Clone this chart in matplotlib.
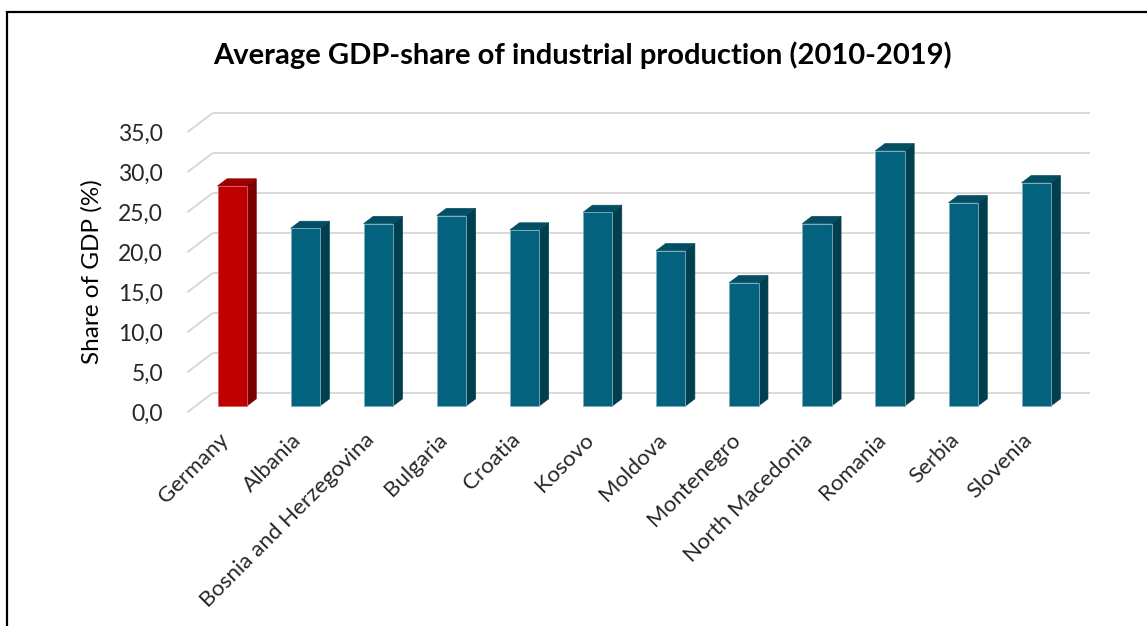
import matplotlib
matplotlib.use('Agg')
import matplotlib.pyplot as plt
from matplotlib.patches import Polygon, Rectangle

plt.rcParams['font.family'] = ['Lato', 'DejaVu Sans']

countries = ['Germany', 'Albania', 'Bosnia and Herzegovina', 'Bulgaria', 'Croatia',
             'Kosovo', 'Moldova', 'Montenegro', 'North Macedonia', 'Romania',
             'Serbia', 'Slovenia']
values = [27.5, 22.2, 22.8, 23.8, 22.0, 24.2, 19.4, 15.4, 22.8, 31.9, 25.4, 27.9]
highlight = 'Germany'
yticks = [0, 5, 10, 15, 20, 25, 30, 35]
title = 'Average GDP-share of industrial production (2010-2019)'
ylabel = 'Share of GDP (%)'

W, H = 1147, 626
fig = plt.figure(figsize=(W / 100, H / 100), dpi=100)
ax = fig.add_axes([0.14647, 0.3158, 0.8134, 0.5112])
ax.set_xlim(-0.763, 12.0)
ax.set_ylim(-2, 38)

DX, DY = 0.349, 2.41      # oblique depth offset (category units, value units)
D0, D1 = 0.33, 0.70       # bar depth range
BW = 0.40
grid_c = '#D9D9D9'
n = len(countries)

# walls' gridlines
for t in yticks:
    ax.plot([-0.5, -0.5 + DX], [t, t + DY], color=grid_c, lw=1.4,
            solid_capstyle='butt', clip_on=False, zorder=1)
    ax.plot([-0.5 + DX, n - 0.5 + DX], [t + DY, t + DY], color=grid_c, lw=1.4,
            solid_capstyle='butt', clip_on=False, zorder=1)

cols = {
    'teal': ('#03637E', '#023F4E', '#034E63', '#7FAFBF'),
    'red': ('#C00000', '#780000', '#9C0000', '#D06060'),
}
ddx, ddy = (D1 - D0) * DX, (D1 - D0) * DY
for i, (c, v) in enumerate(zip(countries, values)):
    fc, sc, tc, ec = cols['red'] if c == highlight else cols['teal']
    xc = i + D0 * DX
    x0, x1 = xc - BW / 2, xc + BW / 2
    y0 = D0 * DY
    front = [(x0, y0), (x1, y0), (x1, y0 + v), (x0, y0 + v)]
    side = [(x1, y0), (x1 + ddx, y0 + ddy), (x1 + ddx, y0 + ddy + v), (x1, y0 + v)]
    top = [(x0, y0 + v), (x1, y0 + v), (x1 + ddx, y0 + v + ddy), (x0 + ddx, y0 + v + ddy)]
    ax.add_patch(Polygon(side, closed=True, facecolor=sc, edgecolor=sc, lw=0.5, zorder=3, clip_on=False))
    ax.add_patch(Polygon(top, closed=True, facecolor=tc, edgecolor=tc, lw=0.5, zorder=3, clip_on=False))
    ax.add_patch(Polygon(front, closed=True, facecolor=fc, edgecolor=ec, lw=0.6, zorder=4, clip_on=False))

ax.set_yticks(yticks)
ax.set_yticklabels([f'{t:.1f}'.replace('.', ',') for t in yticks], fontsize=16.5, color='#262626')
ax.set_xticks([i + D0 * DX for i in range(n)])
ax.set_xticklabels(countries, rotation=45, ha='right', va='top', fontsize=16,
                   color='#262626')
ax.tick_params(axis='y', length=0, pad=3.6)
ax.tick_params(axis='x', length=0, pad=1)
for s in ax.spines.values():
    s.set_visible(False)
ax.set_facecolor('none')

fig.text(0.5078, 1 - 55 / H, title, ha='center', va='center', fontsize=21, fontweight='bold', color='black')
fig.text(92 / W, 1 - 272 / H, ylabel, ha='center', va='center', rotation=90, fontsize=17.5, color='black')

fig.add_artist(Rectangle((7.5 / W, -0.1), 1.2, 1.1 - 12 / H, transform=fig.transFigure,
                         fill=False, edgecolor='black', lw=1.6))

fig.savefig('out.png', dpi=100)
